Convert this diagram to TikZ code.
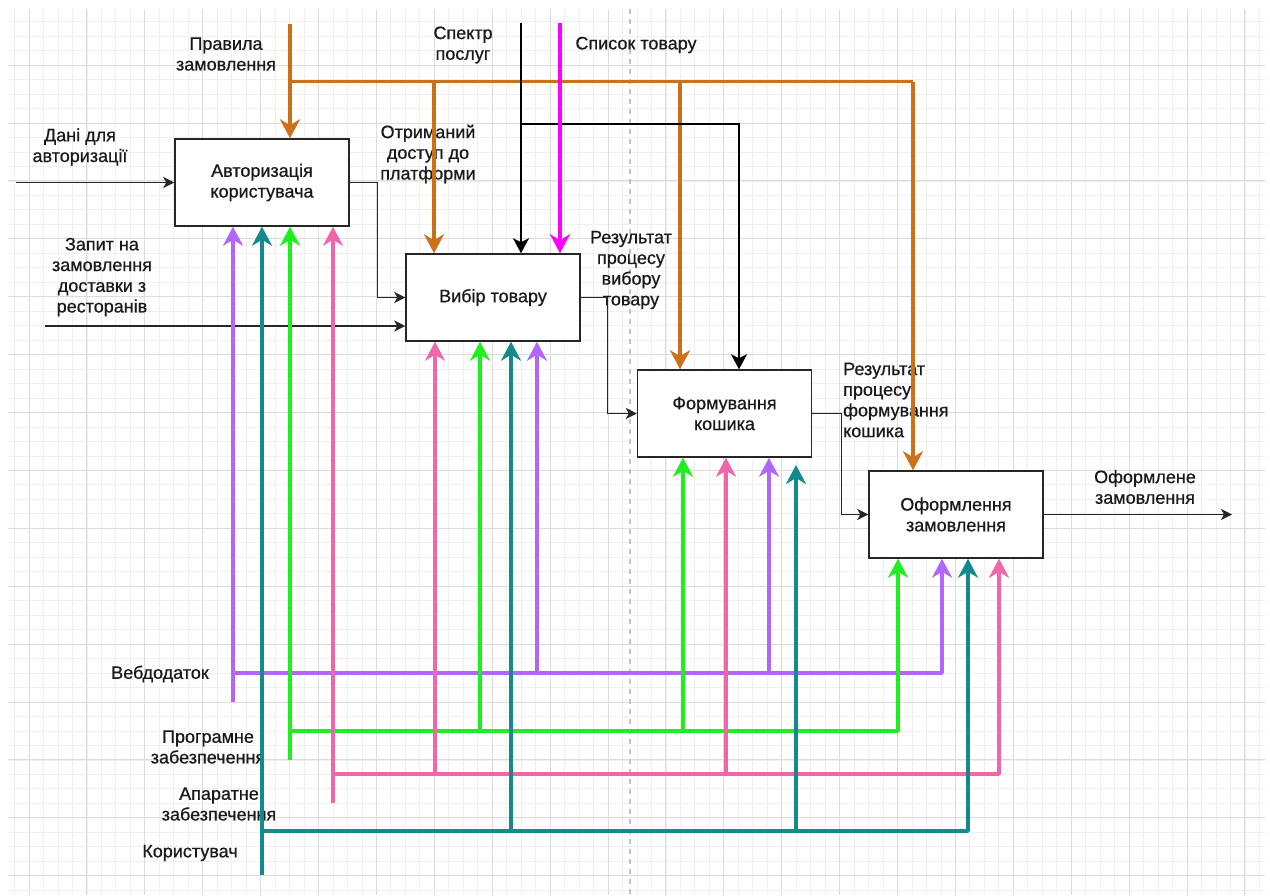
\documentclass[tikz,border=0pt]{standalone}
\usepackage{fontspec}
\setmainfont{Liberation Sans}[FakeBold=0.6]
\usetikzlibrary{arrows.meta}
\definecolor{cOrange}{RGB}{204,112,26}
\definecolor{cPurple}{RGB}{178,102,255}
\definecolor{cGreen}{RGB}{30,240,30}
\definecolor{cPink}{RGB}{240,102,170}
\definecolor{cTeal}{RGB}{20,138,140}
\definecolor{cMag}{RGB}{255,0,255}
\definecolor{gMinor}{RGB}{240,240,240}
\definecolor{gMajor}{RGB}{220,220,220}
\definecolor{gDash}{RGB}{195,195,195}
\definecolor{txt}{RGB}{25,25,25}
\begin{document}
\begin{tikzpicture}[x=1pt,y=-1pt,
  every node/.style={font=\fontsize{18}{20.7}\selectfont, text=txt, inner sep=0pt},
  lbl/.style={align=center},
  box/.style={draw=black!85, line width=1.5pt, fill=white, minimum width=174pt, minimum height=87pt, align=center},
  flowline/.style={draw=black!85, line width=1.4pt},
  flowtip/.style={-{Stealth[length=11pt,width=11pt,inset=3pt]}},
  ctrlline/.style={draw=black, line width=2pt},
  ctrltip/.style={-{Stealth[length=15pt,width=16pt,inset=4pt]}},
  colline/.style={line width=3.5pt, line join=round},
  bigtip/.style={-{Stealth[length=19pt,width=20pt,inset=6pt]}},
  gminor/.style={draw=gMinor, line width=0.8pt},
  gmajor/.style={draw=gMajor, line width=1pt}
]
\useasboundingbox (0,0) rectangle (1270,895);
\fill[white] (0,0) rectangle (1270,895);
% grid
\begin{scope}
\clip (8,9) rectangle (1265,895);
\foreach \k in {-1,...,85} \draw[gminor] ({29+14.475*\k},9) -- ({29+14.475*\k},895);
\foreach \k in {0,...,61} \draw[gminor] (8,{7.2+14.475*\k}) -- (1265,{7.2+14.475*\k});
\foreach \k in {0,...,21} \draw[gmajor] ({29+57.9*\k},9) -- ({29+57.9*\k},895);
\foreach \k in {1,...,15} \draw[gmajor] (8,{7.2+57.9*\k}) -- (1265,{7.2+57.9*\k});
\end{scope}
\draw[gDash, line width=1.2pt, dash pattern=on 5pt off 5pt] (630,9) -- (630,895);

% labels
\node[lbl] (lPr) at (226,54) {Правила\\замовлення};
\node[lbl] (lSp) at (463,45) {Спектр\\послуг};
\node[lbl] (lSl) at (636,45) {Список товару};
\node[lbl] (lDa) at (80,147) {Дані для\\авторизації};
\node[lbl] (lOt) at (428,154) {Отриманий\\доступ до\\платформи};
\node[lbl] (lZa) at (102,277) {Запит на\\замовлення\\доставки з\\ресторанів};
\node[lbl] (lRv) at (631,270) {Результат\\процесу\\вибору\\товару};
\node[align=left, anchor=west] (lRf) at (843,400) {Результат\\процесу\\формування\\кошика};
\node[lbl] (lOz) at (1145,487) {Оформлене\\замовлення};
\node[lbl] (lWeb) at (160,674) {Вебдодаток};
\node[lbl] (lPz) at (208,747) {Програмне\\забезпечення};
\node[lbl] (lAz) at (219,804) {Апаратне\\забезпечення};
\node[lbl] (lKo) at (190,853) {Користувач};

% box anchors (boxes drawn at the end)
\path (262,182.5) coordinate (Ac) (493,297.5) coordinate (Bc) (724.5,413.5) coordinate (Cc) (956,514.5) coordinate (Dc);
\node[box, draw=none, fill=none] (A) at (Ac) {};
\node[box, draw=none, fill=none] (B) at (Bc) {};
\node[box, draw=none, fill=none] (C) at (Cc) {};
\node[box, draw=none, fill=none] (D) at (Dc) {};

% free ends
\coordinate (in1) at (16,182.5);
\coordinate (in2) at (45,326);
\coordinate (out) at (1232,514.5);
\coordinate (prT) at (290,24);
\coordinate (prJ) at (290,81.5);
\coordinate (prR) at (913,81.5);
\coordinate (o1) at (434,81.5);
\coordinate (o2) at (680,81.5);
\coordinate (spT) at (521,23);
\coordinate (spJ) at (521,124);
\coordinate (spR) at (739,124);
\coordinate (slT) at (560,23);

% flow arrows
\draw[flowline, flowtip] (in1) -- (A.west);
\draw[flowline, flowtip] (A.east) -- ++(28,0) |- (B.west);
\draw[flowline, flowtip] (in2) -- (in2 -| B.west);
\draw[flowline, flowtip] (B.east) -- ++(27,0) |- (C.west);
\draw[flowline, flowtip] (C.east) -- ++(29,0) |- (D.west);
\draw[flowline, flowtip] (D.east) -- (out);

% controls
\draw[colline, draw=cOrange] (prJ) -- (prR);
\draw[colline, draw=cOrange, bigtip] (prT) -- (prT |- A.north);
\draw[colline, draw=cOrange, bigtip] (o1) -- (o1 |- B.north);
\draw[colline, draw=cOrange, bigtip] (o2) -- (o2 |- C.north);
\draw[colline, draw=cOrange, bigtip] (prR) -- (prR |- D.north);
\draw[ctrlline, ctrltip] (spT) -- (spT |- B.north);
\draw[ctrlline, ctrltip] (spJ) -- (spR) -- (spR |- C.north);
\draw[colline, draw=cMag, bigtip] (slT) -- (slT |- B.north);

% mechanisms
\coordinate (wb0) at (233,702);
\coordinate (wbJ) at (233,673);
\coordinate (wb2) at (537,673);
\coordinate (wb3) at (769,673);
\coordinate (wb4) at (942,673);
\coordinate (ps0) at (290,760);
\coordinate (psJ) at (290,731);
\coordinate (ps2) at (480,731);
\coordinate (ps3) at (683,731);
\coordinate (ps4) at (898,731);
\coordinate (az0) at (333,803);
\coordinate (azJ) at (333,774);
\coordinate (az2) at (435,774);
\coordinate (az3) at (726,774);
\coordinate (az4) at (999,774);
\coordinate (ko0) at (262,875);
\coordinate (koJ) at (262,831);
\coordinate (ko2) at (511,831);
\coordinate (ko3) at (796,831);
\coordinate (ko3e) at (796,465);
\coordinate (ko4) at (968,831);

\draw[colline, draw=cPurple, bigtip] (wbJ) -- (wb4) -- (wb4 |- D.south);
\draw[colline, draw=cPurple, bigtip] (wb0) -- (wb0 |- A.south);
\draw[colline, draw=cPurple, bigtip] (wb2) -- (wb2 |- B.south);
\draw[colline, draw=cPurple, bigtip] (wb3) -- (wb3 |- C.south);

\draw[colline, draw=cGreen, bigtip] (psJ) -- (ps4) -- (ps4 |- D.south);
\draw[colline, draw=cGreen, bigtip] (ps0) -- (ps0 |- A.south);
\draw[colline, draw=cGreen, bigtip] (ps2) -- (ps2 |- B.south);
\draw[colline, draw=cGreen, bigtip] (ps3) -- (ps3 |- C.south);

\draw[colline, draw=cPink, bigtip] (azJ) -- (az4) -- (az4 |- D.south);
\draw[colline, draw=cPink, bigtip] (az0) -- (az0 |- A.south);
\draw[colline, draw=cPink, bigtip] (az2) -- (az2 |- B.south);
\draw[colline, draw=cPink, bigtip] (az3) -- (az3 |- C.south);

\draw[colline, draw=cTeal, bigtip] (koJ) -- (ko4) -- (ko4 |- D.south);
\draw[colline, draw=cTeal, bigtip] (ko0) -- (ko0 |- A.south);
\draw[colline, draw=cTeal, bigtip] (ko2) -- (ko2 |- B.south);
\draw[colline, draw=cTeal, bigtip] (ko3) -- (ko3e);

% boxes drawn on top
\node[box] (Ab) at (Ac) {Авторизація\\користувача};
\node[box] (Bb) at (Bc) {Вибір товару};
\node[box] (Cb) at (Cc) {Формування\\кошика};
\node[box] (Db) at (Dc) {Оформлення\\замовлення};
\end{tikzpicture}
\end{document}
